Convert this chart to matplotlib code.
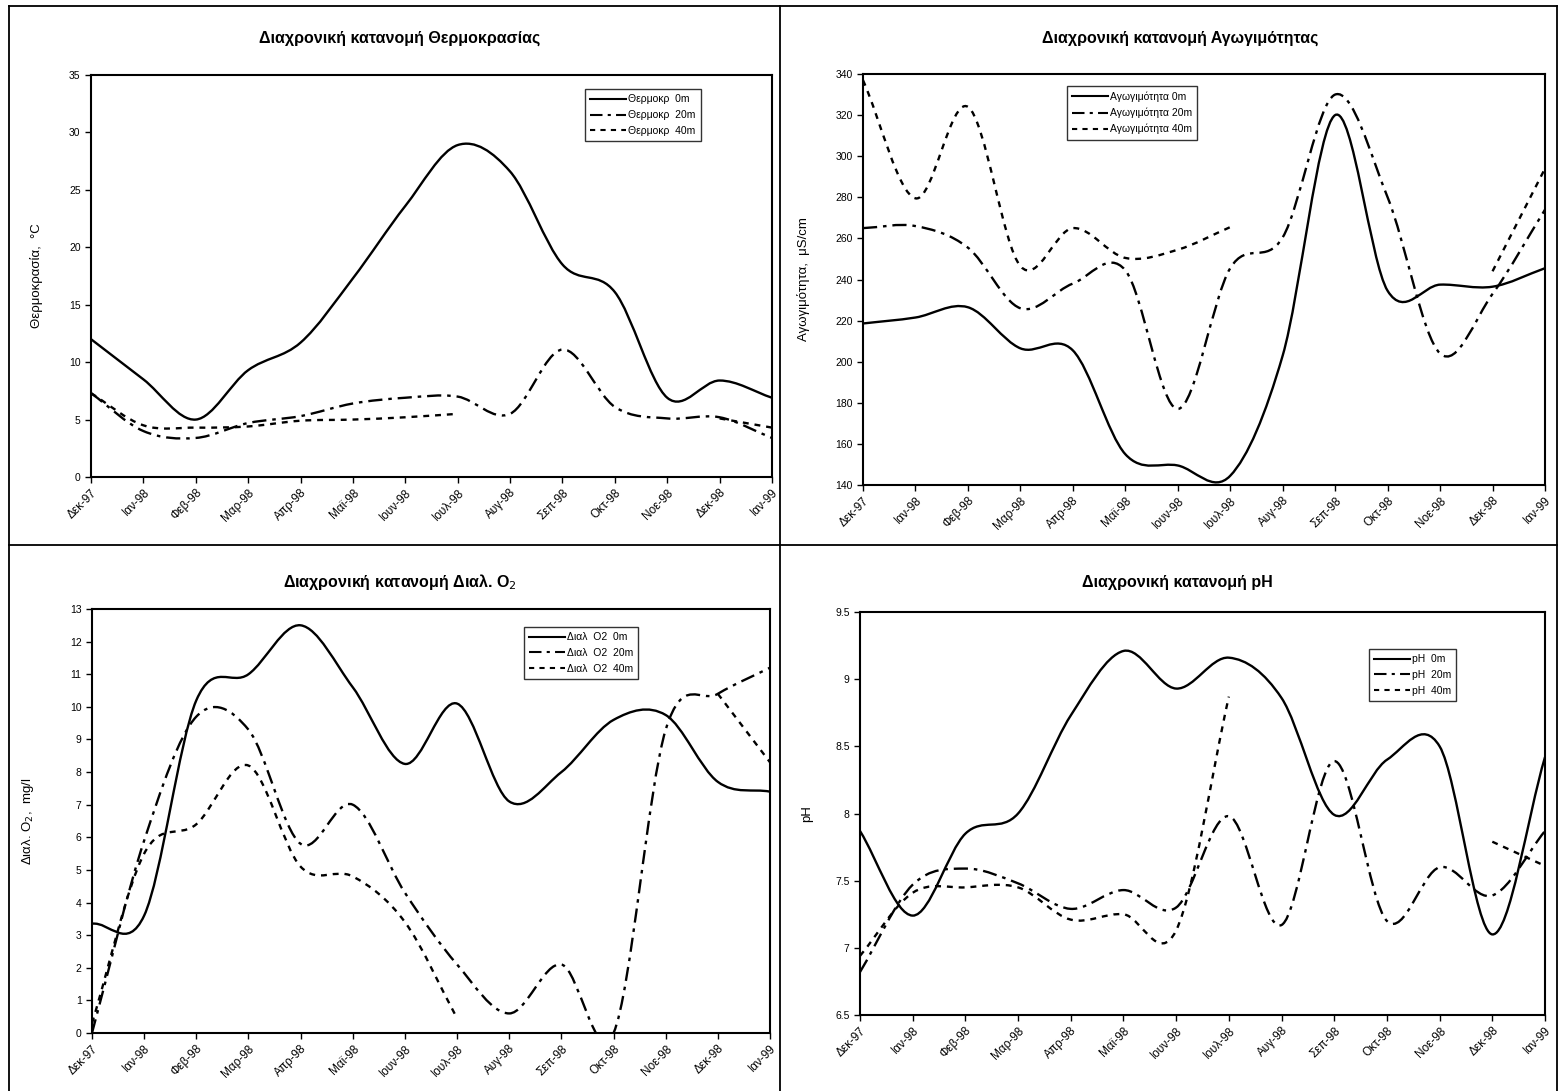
import numpy as np
import matplotlib
matplotlib.use('Agg')
import matplotlib.pyplot as plt
from matplotlib.path import Path
from matplotlib.patches import PathPatch
from matplotlib.lines import Line2D
from matplotlib.ticker import FuncFormatter

plt.rcParams['font.family'] = ['Liberation Sans', 'DejaVu Sans']

nan = np.nan

# μήνες δειγματοληψίας
months = ['Δεκ-97', 'Ιαν-98', 'Φεβ-98', 'Μαρ-98', 'Απρ-98', 'Μαϊ-98', 'Ιουν-98',
          'Ιουλ-98', 'Αυγ-98', 'Σεπ-98', 'Οκτ-98', 'Νοε-98', 'Δεκ-98', 'Ιαν-99']

# θερμοκρασία (°C)
temp_0 = [12.0, 8.5, 5.0, 9.3, 11.7, 17.3, 23.6, 28.9, 26.6, 18.5, 16.1, 6.9, 8.4, 6.9]
temp_20 = [7.3, 4.0, 3.4, 4.7, 5.3, 6.4, 6.9, 7.0, 5.5, 11.1, 6.1, 5.1, 5.2, 3.4]
temp_40 = [7.3, 4.5, 4.3, 4.4, 4.9, 5.0, 5.2, 5.5, nan, nan, nan, nan, 5.1, 4.3]

# αγωγιμότητα (μS/cm)
cond_0 = [218.6, 221.5, 226.5, 206.5, 205.5, 155, 149.5, 144.5, 203, 320, 234.5, 237.5, 236.5, 245.5]
cond_20 = [265, 266, 255.5, 226, 238, 244.5, 177, 245.5, 260.5, 330, 280, 204, 233, 274]
cond_40 = [337, 279.5, 324, 246.5, 265, 250.5, 254.5, 265.5, nan, nan, nan, nan, 244, 294]

# διαλυμένο οξυγόνο (mg/l)
do_0 = [3.35, 3.6, 10.2, 11.0, 12.5, 10.6, 8.25, 10.1, 7.1, 8.0, 9.6, 9.75, 7.7, 7.4]
do_20 = [0.0, 5.9, 9.7, 9.3, 5.8, 7.0, 4.3, 2.1, 0.6, 2.1, 0.0, 9.3, 10.4, 11.2]
do_40 = [0.3, 5.5, 6.4, 8.2, 5.1, 4.8, 3.4, 0.45, nan, nan, nan, nan, 10.4, 8.3]

# pH
ph_0 = [7.87, 7.24, 7.85, 8.0, 8.73, 9.21, 8.93, 9.16, 8.86, 7.99, 8.4, 8.5, 7.1, 8.42]
ph_20 = [6.82, 7.47, 7.59, 7.48, 7.29, 7.43, 7.3, 7.98, 7.17, 8.39, 7.2, 7.6, 7.39, 7.87]
ph_40 = [6.94, 7.41, 7.45, 7.45, 7.21, 7.25, 7.13, 8.87, nan, nan, nan, nan, 7.79, 7.61]

styles = ['-', (0, (6, 2.5, 1.5, 2.5)), (0, (2.5, 2.5))]


def smooth_path(y):
    # καμπύλη τύπου Excel (Catmull-Rom -> Bezier) για κάθε συνεχές τμήμα
    y = np.asarray(y, float)
    x = np.arange(len(y), dtype=float)
    ok = ~np.isnan(y)
    verts, codes = [], []
    i, n = 0, len(y)
    while i < n:
        if not ok[i]:
            i += 1
            continue
        j = i
        while j + 1 < n and ok[j + 1]:
            j += 1
        px, py = x[i:j + 1], y[i:j + 1]
        m = len(px)
        if m > 1:
            tx = np.zeros(m)
            ty = np.zeros(m)
            for k in range(m):
                a, b = max(k - 1, 0), min(k + 1, m - 1)
                tx[k] = (px[b] - px[a]) / (b - a)
                ty[k] = (py[b] - py[a]) / (b - a)
            verts.append((px[0], py[0]))
            codes.append(Path.MOVETO)
            for k in range(m - 1):
                verts += [(px[k] + tx[k] / 3, py[k] + ty[k] / 3),
                          (px[k + 1] - tx[k + 1] / 3, py[k + 1] - ty[k + 1] / 3),
                          (px[k + 1], py[k + 1])]
                codes += [Path.CURVE4] * 3
        i = j + 1
    return Path(verts, codes)


fig = plt.figure(figsize=(15.59, 10.91), dpi=100)
W, H = 1559.0, 1091.0


def make_axes(l, r, t, b):
    return fig.add_axes([l / W, 1 - b / H, (r - l) / W, (b - t) / H])


def draw_panel(ax, series, labels, ylim, ystep, ylabel, title, title_xy, leg_xy, ylab_x):
    for vals, ls in zip(series, styles):
        ax.add_patch(PathPatch(smooth_path(vals), fill=False, edgecolor='black',
                               lw=1.7, linestyle=ls, capstyle='butt'))
    ax.set_xlim(0, len(months) - 1)
    ax.set_ylim(*ylim)
    ax.set_yticks(np.arange(ylim[0], ylim[1] + ystep / 2, ystep))
    ax.yaxis.set_major_formatter(FuncFormatter(lambda v, p: '%g' % v))
    ax.set_xticks(range(len(months)))
    ax.set_xticklabels(months, rotation=45, ha='right', rotation_mode='anchor', fontsize=8.5)
    ax.tick_params(axis='y', labelsize=7.5, direction='out', length=4, width=1)
    ax.tick_params(axis='x', direction='out', length=4, width=1, pad=3)
    for s in ax.spines.values():
        s.set_linewidth(1.5)
        s.set_color('black')
    ax.set_ylabel(ylabel, fontsize=9.5)
    ax.yaxis.set_label_coords(ylab_x, 0.5)
    fig.text(title_xy[0] / W, 1 - title_xy[1] / H, title, ha='center', va='center',
             fontsize=11.5, fontweight='bold')
    handles = [Line2D([], [], color='black', lw=1.5, linestyle=ls) for ls in styles]
    leg = ax.legend(handles, labels, loc='upper left',
                    bbox_to_anchor=(leg_xy[0] / W, 1 - leg_xy[1] / H),
                    bbox_transform=fig.transFigure, fontsize=7.5, frameon=True,
                    fancybox=False, edgecolor='black', handlelength=3.4,
                    handletextpad=0.2, labelspacing=0.55, borderpad=0.5,
                    alignment='right')
    leg.get_frame().set_linewidth(1.0)


ax1 = make_axes(91, 772, 75, 477)
draw_panel(ax1, [temp_0, temp_20, temp_40],
           ['Θερμοκρ  0m', 'Θερμοκρ  20m', 'Θερμοκρ  40m'],
           (0, 35), 5, 'Θερμοκρασία,  °C', 'Διαχρονική κατανομή Θερμοκρασίας',
           (400, 38), (580, 84), -0.070)

ax2 = make_axes(863, 1545, 74, 485)
draw_panel(ax2, [cond_0, cond_20, cond_40],
           ['Αγωγιμότητα 0m', 'Αγωγιμότητα 20m', 'Αγωγιμότητα 40m'],
           (140, 340), 20, 'Αγωγιμότητα,  μS/cm', 'Διαχρονική κατανομή Αγωγιμότητας',
           (1180, 38), (1062, 81), -0.078)

ax3 = make_axes(92, 770, 609, 1033)
draw_panel(ax3, [do_0, do_20, do_40],
           ['Διαλ  O2  0m', 'Διαλ  O2  20m', 'Διαλ  O2  40m'],
           (0, 13), 1, 'Διαλ. O$_2$,  mg/l', 'Διαχρονική κατανομή Διαλ. O$_2$',
           (400, 582), (519, 622), -0.082)

ax4 = make_axes(860, 1545, 612, 1015)
draw_panel(ax4, [ph_0, ph_20, ph_40],
           ['pH  0m', 'pH  20m', 'pH  40m'],
           (6.5, 9.5), 0.5, 'pH', 'Διαχρονική κατανομή pH',
           (1177, 582), (1364, 644), -0.068)

# πλαίσια των τεσσάρων γραφημάτων
frame = dict(color='black', lw=1.3, transform=fig.transFigure)
fig.add_artist(Line2D([9 / W, 9 / W], [0, 1 - 6 / H], **frame))
fig.add_artist(Line2D([9 / W, 1557 / W], [1 - 6 / H, 1 - 6 / H], **frame))
fig.add_artist(Line2D([780 / W, 780 / W], [0, 1 - 6 / H], **frame))
fig.add_artist(Line2D([9 / W, 1557 / W], [1 - 545 / H, 1 - 545 / H], **frame))
fig.add_artist(Line2D([1557 / W, 1557 / W], [0, 1 - 6 / H], **frame))

fig.savefig('out.png', dpi=100, facecolor='white')
